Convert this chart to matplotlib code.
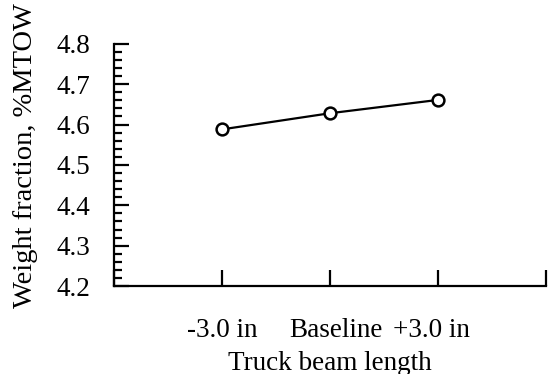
import matplotlib
matplotlib.use("Agg")
import matplotlib.pyplot as plt
import matplotlib.transforms as mtransforms
from matplotlib.ticker import MultipleLocator

plt.rcParams["font.family"] = ["Liberation Serif", "DejaVu Serif"]

# truck beam length trade study
categories = ["-3.0 in", "Baseline", "+3.0 in"]
weight_fraction = [4.588, 4.628, 4.661]

fig = plt.figure(figsize=(5.5, 3.74), dpi=100)
ax = fig.add_axes([0.207, 0.235, 0.786, 0.648])

xs = list(range(1, len(categories) + 1))
ax.plot(xs, weight_fraction, color="black", lw=1.6, marker="o", ms=8.5,
        mfc="white", mec="black", mew=1.8)

ax.set_xlim(0, 4)
ax.set_ylim(4.2, 4.8)
ax.set_xticks([0, 1, 2, 3, 4])
ax.set_xticklabels([""] + categories + [""])
ax.yaxis.set_major_locator(MultipleLocator(0.1))
ax.yaxis.set_minor_locator(MultipleLocator(0.02))
ax.yaxis.set_major_formatter(plt.FormatStrFormatter("%.1f"))

for side in ["top", "right"]:
    ax.spines[side].set_visible(False)
for side in ["left", "bottom"]:
    ax.spines[side].set_linewidth(1.6)

ax.tick_params(axis="y", which="major", direction="in", length=11, width=1.6,
               labelsize=19.5, pad=17)
ax.tick_params(axis="y", which="minor", direction="in", length=6, width=1.6)
ax.tick_params(axis="x", direction="in", length=11.5, width=1.6,
               labelsize=19.5, pad=23)

# middle labels sit a little closer together
nudge = {"Baseline": 4.5, "+3.0 in": -4.5}
for lbl in ax.get_xticklabels():
    dx = nudge.get(lbl.get_text(), 0)
    if dx:
        lbl.set_transform(lbl.get_transform() +
                          mtransforms.ScaledTranslation(dx / 72, 0, fig.dpi_scale_trans))

ax.set_xlabel("Truck beam length", fontsize=19.5, labelpad=6)
ax.set_ylabel("Weight fraction, %MTOW", fontsize=20.5)
ax.yaxis.set_label_coords(-0.176, 0.54)

fig.savefig("out.png", dpi=100)
